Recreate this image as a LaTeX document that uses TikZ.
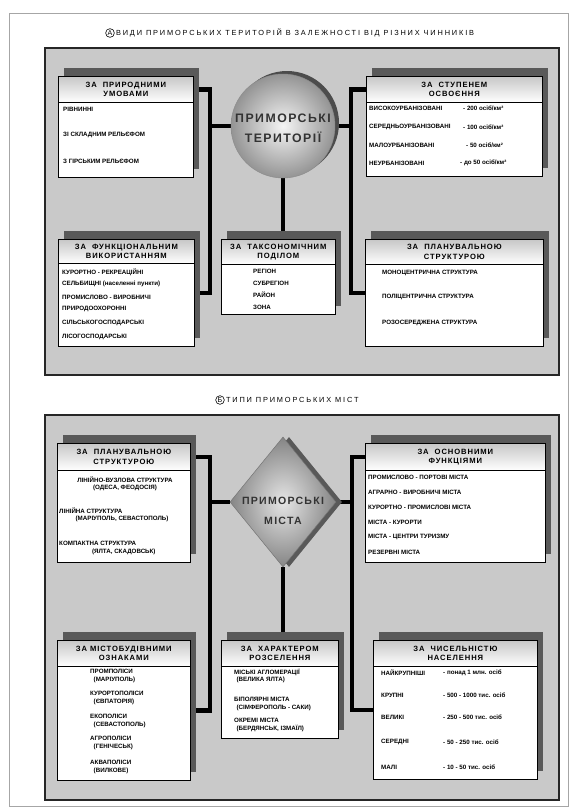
\documentclass[tikz,border=0pt]{standalone}
\usepackage{fontspec}
\setmainfont{Liberation Sans}
\newfontfamily\spacedfont[LetterSpace=12]{Liberation Sans}
\newfontfamily\titlefont[LetterSpace=25]{Liberation Sans}
\usetikzlibrary{positioning,shapes.geometric,shadows,backgrounds}

\begin{document}
\begin{tikzpicture}[x=0.03cm, y=-0.03cm,
  box/.style 2 args={draw, line width=.6pt, fill=white, anchor=north west,
    inner sep=0pt, minimum width=#1*0.03cm, minimum height=#2*0.03cm,
    general shadow={fill=black!65, shadow xshift=.18cm, shadow yshift=.24cm}},
  head/.style 2 args={draw, line width=.6pt, top color=black!22,
    bottom color=white, anchor=north, inner sep=0pt, align=center,
    minimum width=#1*0.03cm, minimum height=#2*0.03cm,
    font=\spacedfont\bfseries\fontsize{6.5}{7.8}\selectfont},
  item/.style={anchor=west, inner sep=0pt, align=left,
    font=\bfseries\fontsize{5.3}{6.4}\selectfont},
  bigtext/.style={inner sep=0pt, align=center, text=black!80,
    font=\spacedfont\bfseries\fontsize{10.5}{17}\selectfont},
  letterring/.style={circle, draw, line width=.5pt, inner sep=.6pt,
    font=\fontsize{6}{6}\selectfont},
  titletext/.style={inner sep=0pt, font=\titlefont\fontsize{6.3}{7}\selectfont},
  link/.style={line width=4pt},
  panel/.style={fill=black!21, draw=black!85, line width=1.3pt}]

\useasboundingbox (0,0) rectangle (577,809);

\node[letterring] (markA) at (110,33) {А};
\node[titletext, right=1pt of markA] (titleA)
  {ВИДИ ПРИМОРСЬКИХ ТЕРИТОРІЙ В ЗАЛЕЖНОСТІ ВІД РІЗНИХ ЧИННИКІВ};

\node[circle, minimum size=104*0.03cm, inner sep=0pt, draw=black!45,
  inner color=black!4, outer color=black!42,
  general shadow={fill=black!70, shadow xshift=.12cm, shadow yshift=.09cm}]
  (terr) at (283,126) {};
\node[bigtext] (terrT) at (283,128) {ПРИМОРСЬКІ\\ТЕРИТОРІЇ};

\node[box={135}{101}] (prir) at (58,76) {};
\node[head={135}{26}] (prirH) at (prir.north) {ЗА \ ПРИРОДНИМИ\\УМОВАМИ};
\node[item] (prir1) at (63,109) {РІВНИННІ};
\node[item] (prir2) at (63,135) {ЗІ СКЛАДНИМ РЕЛЬЄФОМ};
\node[item] (prir3) at (63,161) {З ГІРСЬКИМ РЕЛЬЄФОМ};

\node[box={176}{100}] (stup) at (366,76) {};
\node[head={176}{26}] (stupH) at (stup.north) {ЗА \ СТУПЕНЕМ\\ОСВОЄННЯ};
\node[item] (stup1) at (369,108) {ВИСОКОУРБАНІЗОВАНІ};
\node[item] (stup2) at (369,127) {СЕРЕДНЬОУРБАНІЗОВАНІ};
\node[item] (stup3) at (369,145) {МАЛОУРБАНІЗОВАНІ};
\node[item] (stup4) at (369,163) {НЕУРБАНІЗОВАНІ};
\node[item] (stupV1) at (463,108) {- 200 осіб/км²};
\node[item] (stupV2) at (463,127) {- 100 осіб/км²};
\node[item] (stupV3) at (466,145) {- 50 осіб/км²};
\node[item] (stupV4) at (460,163) {- до 50 осіб/км²};

\node[box={136}{107}] (funk) at (58,239) {};
\node[head={136}{24}] (funkH) at (funk.north) {ЗА \ ФУНКЦІОНАЛЬНИМ\\ВИКОРИСТАННЯМ};
\node[item] (funk1) at (62,272) {КУРОРТНО - РЕКРЕАЦІЙНІ};
\node[item] (funk2) at (62,284) {СЕЛЬБИЩНІ (населенні пункти)};
\node[item] (funk3) at (62,297) {ПРОМИСЛОВО - ВИРОБНИЧІ};
\node[item] (funk4) at (62,309) {ПРИРОДООХОРОННІ};
\node[item] (funk5) at (62,323) {СІЛЬСЬКОГОСПОДАРСЬКІ};
\node[item] (funk6) at (62,337) {ЛІСОГОСПОДАРСЬКІ};

\node[box={114}{75}] (taks) at (221,239) {};
\node[head={114}{25}] (taksH) at (taks.north) {ЗА \ ТАКСОНОМІЧНИМ\\ПОДІЛОМ};
\node[item] (taks1) at (253,271) {РЕГІОН};
\node[item] (taks2) at (253,283) {СУБРЕГІОН};
\node[item] (taks3) at (253,295) {РАЙОН};
\node[item] (taks4) at (253,307) {ЗОНА};

\node[box={178}{107}] (plan) at (365,239) {};
\node[head={178}{25}] (planH) at (plan.north) {ЗА \ ПЛАНУВАЛЬНОЮ\\СТРУКТУРОЮ};
\node[item] (plan1) at (382,273) {МОНОЦЕНТРИЧНА СТРУКТУРА};
\node[item] (plan2) at (382,297) {ПОЛІЦЕНТРИЧНА СТРУКТУРА};
\node[item] (plan3) at (382,323) {РОЗОСЕРЕДЖЕНА СТРУКТУРА};

\node[letterring] (markB) at (220,400) {Б};
\node[titletext, right=1pt of markB] (titleB) {ТИПИ ПРИМОРСЬКИХ МІСТ};

\node[diamond, minimum width=106*0.03cm, minimum height=130*0.03cm,
  inner sep=0pt, draw=black!55, inner color=black!10, outer color=black!48,
  general shadow={fill=black!65, shadow xshift=.18cm, shadow yshift=0cm}]
  (mista) at (283,502) {};
\node[bigtext, font=\spacedfont\bfseries\fontsize{9}{17}\selectfont]
  (mistaT) at (283,511) {ПРИМОРСЬКІ\\МІСТА};

\node[box={133}{119}] (planB) at (57,443) {};
\node[head={133}{27}] (planBH) at (planB.north) {ЗА \ ПЛАНУВАЛЬНОЮ\\СТРУКТУРОЮ};
\node[item, anchor=center, align=center] (planB1) at (125,484)
  {ЛІНІЙНО-ВУЗЛОВА СТРУКТУРА\\(ОДЕСА, ФЕОДОСІЯ)};
\node[item] (planB2) at (59,515)
  {ЛІНІЙНА СТРУКТУРА\\\hspace*{14pt}(МАРІУПОЛЬ, СЕВАСТОПОЛЬ)};
\node[item] (planB3) at (59,548)
  {КОМПАКТНА СТРУКТУРА\\\hspace*{28pt}(ЯЛТА, СКАДОВСЬК)};

\node[box={180}{119}] (funB) at (365,443) {};
\node[head={180}{27}] (funBH) at (funB.north) {ЗА \ ОСНОВНИМИ\\ФУНКЦІЯМИ};
\node[item] (funB1) at (368,477) {ПРОМИСЛОВО - ПОРТОВІ МІСТА};
\node[item] (funB2) at (368,492) {АГРАРНО - ВИРОБНИЧІ МІСТА};
\node[item] (funB3) at (368,507) {КУРОРТНО - ПРОМИСЛОВІ МІСТА};
\node[item] (funB4) at (368,522) {МІСТА - КУРОРТИ};
\node[item] (funB5) at (368,537) {МІСТА - ЦЕНТРИ ТУРИЗМУ};
\node[item] (funB6) at (368,552) {РЕЗЕРВНІ МІСТА};

\node[box={133}{140}] (mist) at (57,640) {};
\node[head={133}{26}] (mistH) at (mist.north) {ЗА МІСТОБУДІВНИМИ\\ОЗНАКАМИ};
\node[item] (mist1) at (90,676) {ПРОМПОЛІСИ\\\hspace*{3pt}(МАРІУПОЛЬ)};
\node[item] (mist2) at (90,698) {КУРОРТОПОЛІСИ\\\hspace*{3pt}(ЄВПАТОРІЯ)};
\node[item] (mist3) at (90,721) {ЕКОПОЛІСИ\\\hspace*{3pt}(СЕВАСТОПОЛЬ)};
\node[item] (mist4) at (90,743) {АГРОПОЛІСИ\\\hspace*{3pt}(ГЕНІЧЕСЬК)};
\node[item] (mist5) at (90,767) {АКВАПОЛІСИ\\\hspace*{3pt}(ВИЛКОВЕ)};

\node[box={117}{98}] (rozs) at (221,640) {};
\node[head={117}{26}] (rozsH) at (rozs.north) {ЗА \ ХАРАКТЕРОМ\\РОЗСЕЛЕННЯ};
\node[item] (rozs1) at (234,676) {МІСЬКІ АГЛОМЕРАЦІЇ\\\hspace*{2pt}(ВЕЛИКА ЯЛТА)};
\node[item] (rozs2) at (234,704) {БІПОЛЯРНІ МІСТА\\\hspace*{2pt}(СІМФЕРОПОЛЬ - САКИ)};
\node[item] (rozs3) at (234,725) {ОКРЕМІ МІСТА\\\hspace*{2pt}(БЕРДЯНСЬК, ІЗМАЇЛ)};

\node[box={164}{139}] (chys) at (373,640) {};
\node[head={164}{26}] (chysH) at (chys.north) {ЗА \ ЧИСЕЛЬНІСТЮ\\НАСЕЛЕННЯ};
\node[item] (chys1) at (381,673) {НАЙКРУПНІШІ};
\node[item] (chys2) at (381,695) {КРУПНІ};
\node[item] (chys3) at (381,717) {ВЕЛИКІ};
\node[item] (chys4) at (381,742) {СЕРЕДНІ};
\node[item] (chys5) at (381,767) {МАЛІ};
\node[item] (chysV1) at (443,673) {- понад 1 млн. осіб};
\node[item] (chysV2) at (443,695) {- 500 - 1000 тис. осіб};
\node[item] (chysV3) at (443,717) {- 250 - 500 тис. осіб};
\node[item] (chysV4) at (443,742) {- 50 - 250 тис. осіб};
\node[item] (chysV5) at (443,767) {- 10 - 50 тис. осіб};

\coordinate (busAL) at (210,200);
\coordinate (busAR) at (351,200);
\coordinate (busBL) at (210,600);
\coordinate (busBR) at (352,600);

\begin{scope}[on background layer]
\draw[gray!70, line width=.8pt] (9,13) rectangle (568,806);
\draw[panel] (45,48) rectangle (559,375);
\draw[panel] (45,415) rectangle (559,800);

\draw[link] (prirH.east) -| (busAL) |- (funk.east);
\draw[link] (terr.west) -- (terr.west -| busAL);
\draw[link] (stupH.west) -| (busAR) |- (plan.west);
\draw[link] (terr.east) -- (terr.east -| busAR);
\draw[link] (terr.south) -- (terr.south |- taks.north);

\draw[link] (planBH.east) -| (busBL) |- (mist.east);
\draw[link] (mista.west) -- (mista.west -| busBL);
\draw[link] (funBH.west) -| (busBR) |- (chys.west);
\draw[link] (mista.east) -- (mista.east -| busBR);
\draw[link] (mista.south) -- (mista.south |- rozs.north);
\end{scope}
\end{tikzpicture}
\end{document}
